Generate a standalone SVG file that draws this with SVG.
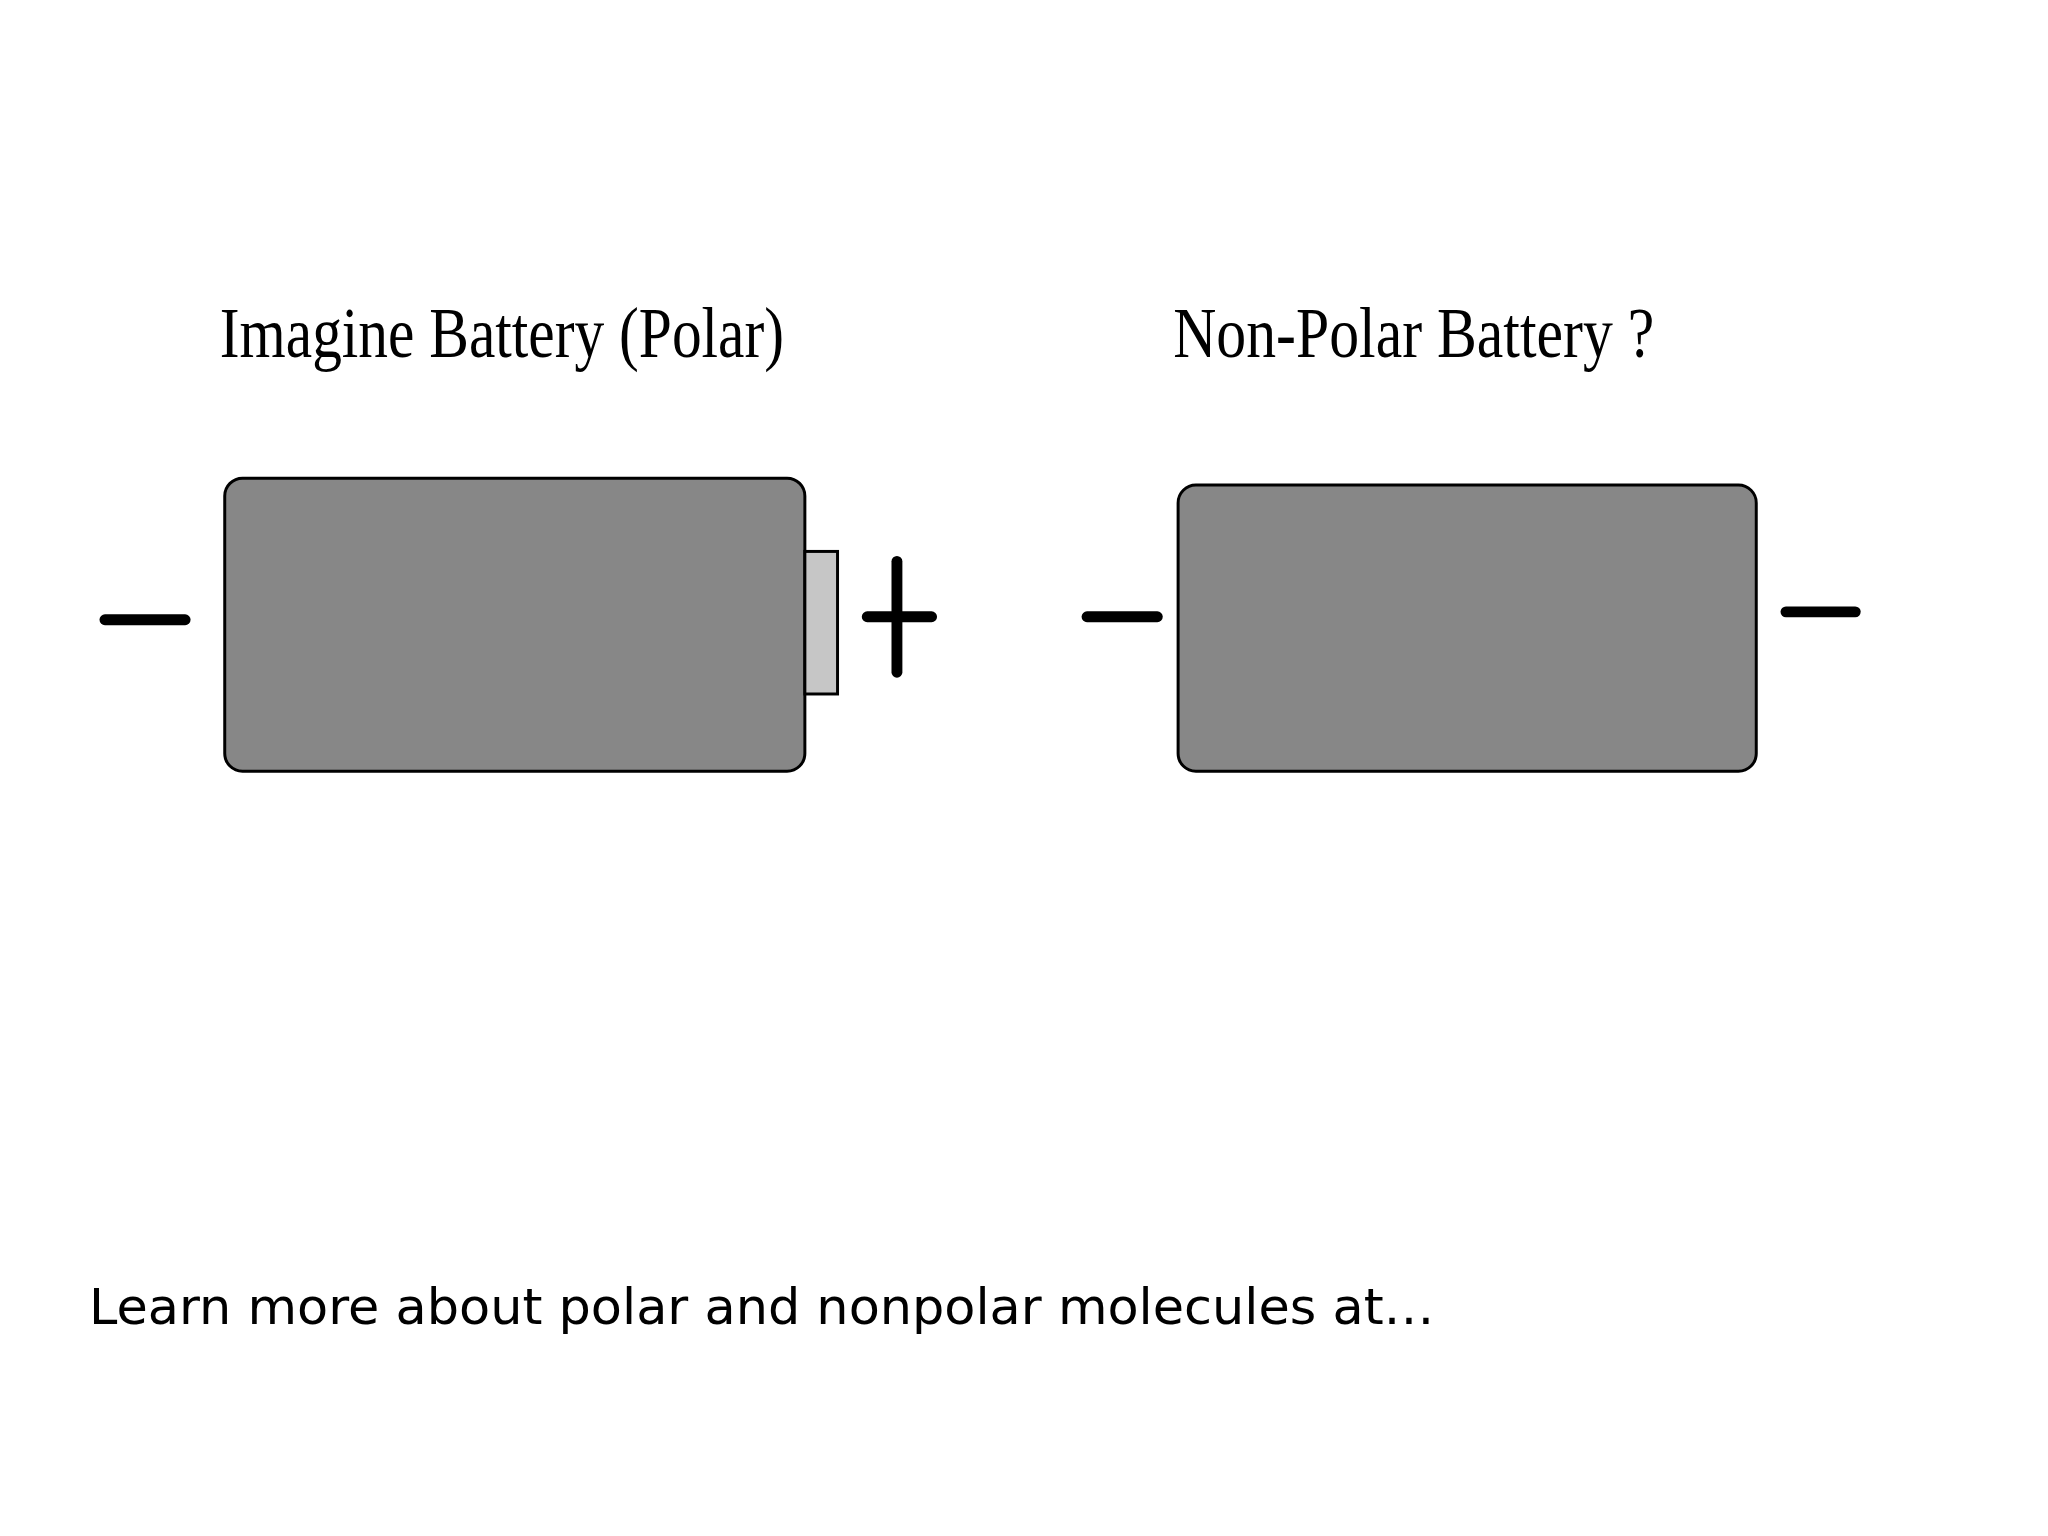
<svg xmlns="http://www.w3.org/2000/svg" width="2048" height="1536" viewBox="0 0 2048 1536">
<style>
.body{fill:#878787;stroke:#000;stroke-width:3}
.sign{stroke:#000;stroke-width:11;stroke-linecap:round}
.title{font-family:"Liberation Serif",serif;font-size:72px}
</style>
<rect width="2048" height="1536" fill="#fff"/>
<g transform="scale(0.99)">
<g id="polar">
<text class="title" x="222" y="361" textLength="570" lengthAdjust="spacingAndGlyphs">Imagine Battery (Polar)</text>
<rect class="body" x="227" y="483" width="586" height="296" rx="18"/>
<rect x="813" y="557" width="33" height="144" fill="#c6c6c6" stroke="#000" stroke-width="3"/>
<line class="sign" x1="106" y1="626" x2="187" y2="626"/>
<line class="sign" x1="876" y1="623" x2="941" y2="623"/>
<line class="sign" x1="906" y1="567" x2="906" y2="679"/>
</g>
<g id="nonpolar">
<text class="title" x="1185" y="361" textLength="486" lengthAdjust="spacingAndGlyphs">Non-Polar Battery ?</text>
<rect class="body" x="1190" y="490" width="584" height="289" rx="18"/>
<line class="sign" x1="1098" y1="623" x2="1169" y2="623"/>
<line class="sign" x1="1804" y1="618" x2="1874" y2="618"/>
</g>
<text x="90" y="1337" font-family="DejaVu Sans,sans-serif" font-size="50" textLength="1359" lengthAdjust="spacingAndGlyphs">Learn more about polar and nonpolar molecules at…</text>
</g>
</svg>
